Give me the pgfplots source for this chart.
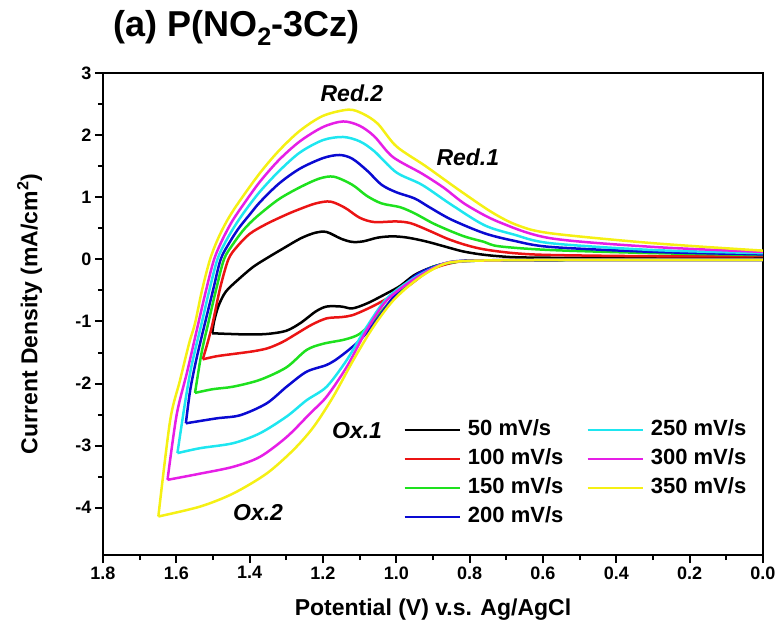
\documentclass[border=0pt]{standalone}
\usepackage{fontspec}
\setmainfont{Liberation Sans}
\usepackage{pgfplots}
\pgfplotsset{compat=1.18}

\definecolor{cA}{RGB}{0,0,0}
\definecolor{cB}{RGB}{235,20,20}
\definecolor{cC}{RGB}{30,225,30}
\definecolor{cD}{RGB}{10,10,210}
\definecolor{cE}{RGB}{30,230,240}
\definecolor{cF}{RGB}{230,30,230}
\definecolor{cG}{RGB}{245,240,20}

\begin{document}
\begin{tikzpicture}
\begin{axis}[
  at={(0,0)}, anchor=south west,
  scale only axis, width=660pt, height=482pt,
  xmin=0, xmax=1.8, ymin=-4.76, ymax=3,
  x dir=reverse,
  axis line style={line width=2pt},
  every tick/.style={black, line width=2pt},
  major tick length=8pt, minor tick length=5pt,
  tick align=outside,
  xtick pos=left, ytick pos=left,
  xtick={0,0.2,0.4,0.6,0.8,1.0,1.2,1.4,1.6,1.8},
  xticklabels={0.0,0.2,0.4,0.6,0.8,1.0,1.2,1.4,1.6,1.8},
  ytick={-4,-3,-2,-1,0,1,2,3},
  yticklabels={-4,-3,-2,-1,0,1,2,3},
  minor x tick num=1, minor y tick num=1,
  tick label style={font=\fontsize{18}{18}\selectfont\bfseries},
  xlabel={Potential (V) v.s. Ag/AgCl},
  ylabel={Current Density (mA/cm\textsuperscript{2})},
  label style={font=\fontsize{23}{23}\selectfont\bfseries},
  x label style={at={(axis description cs:0.5,-0.114)}, anchor=center},
  y label style={at={(axis description cs:-0.111,0.5)}, anchor=center},
  title={(a) P(NO\textsubscript{2}-3Cz)},
  title style={at={(axis description cs:0.2023,1.064)}, anchor=base,
    font=\fontsize{36}{36}\selectfont\bfseries},
  legend columns=2,
  legend cell align=left,
  legend image code/.code={\draw[#1] (0pt,0pt) -- (55pt,0pt);},
  legend style={at={(axis description cs:0.455,0.283)}, anchor=north west,
    draw=none, fill=none, inner sep=0pt, row sep=7pt,
    font=\fontsize{22}{22}\selectfont\bfseries,
    nodes={inner sep=1pt, text height=16pt, text depth=4pt},
    /tikz/every odd column/.style={column sep=6pt},
    /tikz/every even column/.style={column sep=22pt}},
  every axis plot/.append style={line width=2.5pt, smooth},
]

% 50 mV/s
\addplot[cA, forget plot] coordinates {(0,0.02) (0.4,0.02) (0.65,0.03) (0.72,0.05) (0.77,0.08) (0.82,0.13) (0.87,0.21) (0.92,0.29) (0.97,0.35) (1.01,0.37) (1.05,0.35) (1.09,0.29) (1.12,0.28) (1.15,0.33) (1.19,0.44) (1.22,0.43) (1.26,0.34) (1.31,0.17) (1.35,0.03) (1.39,-0.12) (1.43,-0.32) (1.465,-0.52) (1.485,-0.75) (1.497,-1.0) (1.502,-1.19)};
\addplot[cA, forget plot] coordinates {(1.502,-1.19) (1.46,-1.20) (1.40,-1.21) (1.35,-1.20) (1.30,-1.15) (1.26,-1.02) (1.22,-0.84) (1.19,-0.76) (1.15,-0.76) (1.12,-0.79) (1.08,-0.71) (1.03,-0.56) (0.99,-0.43) (0.95,-0.25) (0.90,-0.12) (0.85,-0.05) (0.78,-0.02) (0.5,-0.01) (0,-0.01)};

% 100 mV/s
\addplot[cB, forget plot] coordinates {(0,0.05) (0.3,0.05) (0.58,0.07) (0.68,0.10) (0.76,0.16) (0.81,0.23) (0.86,0.33) (0.91,0.46) (0.96,0.58) (1.00,0.61) (1.06,0.60) (1.10,0.67) (1.14,0.83) (1.18,0.93) (1.22,0.90) (1.263,0.81) (1.30,0.72) (1.354,0.57) (1.40,0.41) (1.435,0.20) (1.458,0.0) (1.48,-0.45) (1.501,-1.03) (1.515,-1.35) (1.528,-1.61)};
\addplot[cB, forget plot] coordinates {(1.528,-1.61) (1.49,-1.56) (1.44,-1.52) (1.39,-1.48) (1.35,-1.43) (1.31,-1.33) (1.27,-1.19) (1.23,-1.05) (1.19,-0.95) (1.15,-0.93) (1.12,-0.90) (1.08,-0.80) (1.04,-0.68) (0.97,-0.44) (0.91,-0.18) (0.85,-0.06) (0.78,-0.02) (0.5,-0.01) (0,-0.01)};

% 150 mV/s
\addplot[cC, forget plot] coordinates {(0,0.07) (0.3,0.10) (0.58,0.15) (0.72,0.21) (0.76,0.28) (0.81,0.36) (0.85,0.45) (0.90,0.58) (0.95,0.74) (0.99,0.84) (1.04,0.90) (1.08,1.02) (1.12,1.20) (1.17,1.33) (1.21,1.30) (1.263,1.16) (1.32,0.97) (1.372,0.73) (1.40,0.58) (1.42,0.45) (1.446,0.24) (1.470,0.0) (1.492,-0.5) (1.513,-1.03) (1.531,-1.5) (1.549,-2.15)};
\addplot[cC, forget plot] coordinates {(1.549,-2.15) (1.50,-2.09) (1.445,-2.05) (1.372,-1.94) (1.30,-1.74) (1.245,-1.46) (1.20,-1.36) (1.14,-1.29) (1.10,-1.20) (1.063,-0.99) (1.008,-0.62) (0.954,-0.31) (0.90,-0.12) (0.835,-0.04) (0.76,-0.02) (0.5,-0.01) (0,-0.01)};

% 200 mV/s
\addplot[cD, forget plot] coordinates {(0,0.08) (0.3,0.12) (0.58,0.20) (0.68,0.30) (0.76,0.42) (0.85,0.64) (0.91,0.84) (0.95,0.98) (1.00,1.08) (1.04,1.20) (1.08,1.43) (1.12,1.62) (1.155,1.68) (1.20,1.63) (1.263,1.46) (1.32,1.22) (1.372,0.92) (1.40,0.72) (1.43,0.50) (1.455,0.27) (1.479,0.0) (1.500,-0.5) (1.522,-1.03) (1.545,-1.6) (1.562,-2.1) (1.574,-2.64)};
\addplot[cD, forget plot] coordinates {(1.574,-2.64) (1.49,-2.56) (1.426,-2.51) (1.354,-2.32) (1.299,-2.05) (1.245,-1.81) (1.19,-1.70) (1.154,-1.57) (1.099,-1.30) (1.054,-0.98) (1.00,-0.55) (0.94,-0.23) (0.87,-0.07) (0.80,-0.02) (0.5,-0.01) (0,-0.01)};

% 250 mV/s
\addplot[cE, forget plot] coordinates {(0,0.10) (0.3,0.15) (0.58,0.26) (0.68,0.40) (0.76,0.55) (0.85,0.88) (0.93,1.20) (1.00,1.40) (1.06,1.74) (1.10,1.90) (1.145,1.97) (1.20,1.92) (1.263,1.72) (1.32,1.42) (1.372,1.09) (1.41,0.80) (1.438,0.56) (1.465,0.29) (1.488,0.0) (1.51,-0.5) (1.531,-1.03) (1.558,-1.7) (1.576,-2.3) (1.597,-3.12)};
\addplot[cE, forget plot] coordinates {(1.597,-3.12) (1.535,-3.04) (1.445,-2.96) (1.372,-2.80) (1.299,-2.53) (1.245,-2.27) (1.19,-2.05) (1.135,-1.62) (1.081,-1.09) (1.026,-0.63) (0.954,-0.31) (0.88,-0.09) (0.82,-0.03) (0.6,-0.01) (0,-0.01)};

% 300 mV/s
\addplot[cF, forget plot] coordinates {(0,0.12) (0.3,0.20) (0.58,0.34) (0.72,0.60) (0.81,0.88) (0.87,1.15) (0.93,1.38) (1.01,1.65) (1.06,1.98) (1.10,2.15) (1.145,2.22) (1.20,2.13) (1.263,1.90) (1.32,1.60) (1.372,1.25) (1.415,0.90) (1.447,0.62) (1.474,0.32) (1.497,0.0) (1.519,-0.5) (1.540,-1.03) (1.57,-1.8) (1.599,-2.5) (1.624,-3.55)};
\addplot[cF, forget plot] coordinates {(1.624,-3.55) (1.535,-3.45) (1.445,-3.34) (1.372,-3.18) (1.299,-2.86) (1.235,-2.48) (1.19,-2.21) (1.135,-1.73) (1.081,-1.14) (1.026,-0.66) (0.954,-0.33) (0.88,-0.09) (0.82,-0.03) (0.6,-0.01) (0,-0.01)};

% 350 mV/s
\addplot[cG, forget plot] coordinates {(0,0.14) (0.3,0.26) (0.58,0.42) (0.67,0.55) (0.74,0.76) (0.83,1.12) (0.92,1.50) (1.00,1.82) (1.05,2.18) (1.09,2.34) (1.13,2.41) (1.20,2.31) (1.263,2.07) (1.32,1.75) (1.372,1.39) (1.426,0.95) (1.458,0.66) (1.485,0.35) (1.508,0.0) (1.53,-0.5) (1.549,-1.03) (1.565,-1.35) (1.59,-1.95) (1.617,-2.6) (1.649,-4.14)};
\addplot[cG, forget plot] coordinates {(1.649,-4.14) (1.535,-3.98) (1.445,-3.77) (1.354,-3.45) (1.281,-3.07) (1.226,-2.70) (1.172,-2.21) (1.117,-1.62) (1.063,-1.09) (1.008,-0.66) (0.945,-0.33) (0.88,-0.10) (0.82,-0.03) (0.6,-0.01) (0,-0.01)};

% legend, filled row by row into two columns
\addlegendimage{cA, line width=2.5pt} \addlegendentry{50 mV/s}
\addlegendimage{cE, line width=2.5pt} \addlegendentry{250 mV/s}
\addlegendimage{cB, line width=2.5pt} \addlegendentry{100 mV/s}
\addlegendimage{cF, line width=2.5pt} \addlegendentry{300 mV/s}
\addlegendimage{cC, line width=2.5pt} \addlegendentry{150 mV/s}
\addlegendimage{cG, line width=2.5pt} \addlegendentry{350 mV/s}
\addlegendimage{cD, line width=2.5pt} \addlegendentry{200 mV/s}

% peak labels
\node[font=\fontsize{23}{23}\selectfont\bfseries\itshape] at (axis cs:1.121,2.68) {Red.2};
\node[font=\fontsize{23}{23}\selectfont\bfseries\itshape] at (axis cs:0.805,1.65) {Red.1};
\node[font=\fontsize{23}{23}\selectfont\bfseries\itshape] at (axis cs:1.107,-2.75) {Ox.1};
\node[font=\fontsize{23}{23}\selectfont\bfseries\itshape] at (axis cs:1.377,-4.08) {Ox.2};
\end{axis}
\pgfresetboundingbox
\path[use as bounding box] (-103pt,-75pt) rectangle (677pt,555pt);
\end{tikzpicture}
\end{document}
